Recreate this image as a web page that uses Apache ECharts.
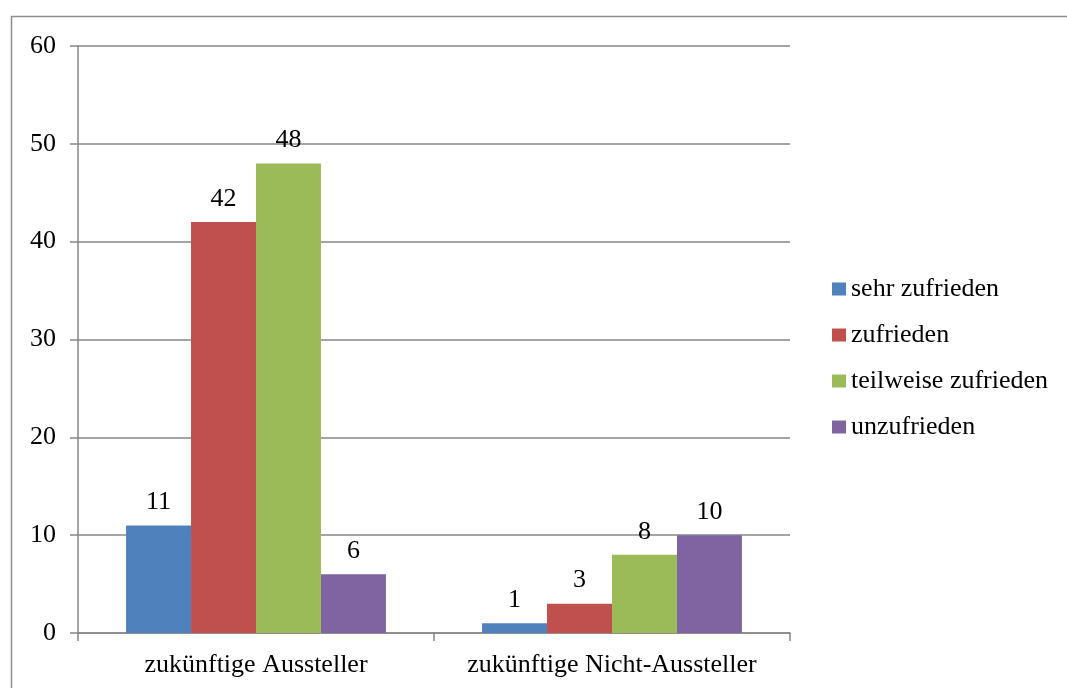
<!DOCTYPE html>
<html><head><meta charset="utf-8">
<script src="https://cdn.jsdelivr.net/npm/echarts@6/dist/echarts.min.js"></script>
<style>html,body{margin:0;padding:0;background:#fff}#c{width:1067px;height:688px}</style>
</head><body><div id="c"></div>
<script>
const categories = ['zukünftige Aussteller', 'zukünftige Nicht-Aussteller'];
const seriesNames = ['sehr zufrieden', 'zufrieden', 'teilweise zufrieden', 'unzufrieden'];
const sehrZufrieden = [11, 1];
const zufrieden = [42, 3];
const teilweiseZufrieden = [48, 8];
const unzufrieden = [6, 10];
const colors = ['#4F81BD', '#C0504D', '#9BBB59', '#8064A2'];
const values = [sehrZufrieden, zufrieden, teilweiseZufrieden, unzufrieden];
const font = '"Liberation Serif", "DejaVu Serif", serif';

const chart = echarts.init(document.getElementById('c'), null, {renderer: 'canvas'});
chart.setOption({
  animation: false,
  backgroundColor: '#fff',
  textStyle: {fontFamily: font},
  graphic: [{
    type: 'rect', shape: {x: 11.5, y: 16.5, width: 1200, height: 800},
    style: {fill: 'none', stroke: '#8c8c8c', lineWidth: 1.5}, silent: true
  }],
  grid: {left: 78, top: 46, width: 712, height: 587, containLabel: false},
  legend: {
    orient: 'vertical', left: 827, top: 271, itemGap: 20,
    itemWidth: 14, itemHeight: 13, icon: 'rect',
    textStyle: {fontFamily: font, fontSize: 26, color: '#000'},
    data: seriesNames
  },
  xAxis: {
    type: 'category', data: categories,
    axisLine: {lineStyle: {color: '#868686', width: 1.5}},
    axisTick: {show: true, length: 8, lineStyle: {color: '#868686', width: 1.5}},
    axisLabel: {fontFamily: font, fontSize: 26, color: '#000', margin: 19, interval: 0, hideOverlap: false}
  },
  yAxis: {
    type: 'value', min: 0, max: 60, interval: 10,
    axisLine: {show: true, lineStyle: {color: '#868686', width: 1.5}},
    axisTick: {show: true, length: 8, lineStyle: {color: '#868686', width: 1.5}},
    splitLine: {lineStyle: {color: '#868686', width: 1.5}},
    axisLabel: {fontFamily: font, fontSize: 26, color: '#000', margin: 22}
  },
  series: seriesNames.map((n, i) => ({
    name: n, type: 'bar', data: values[i], barGap: '0%', barCategoryGap: '27%',
    itemStyle: {color: colors[i]},
    label: {show: true, position: 'top', distance: 10, fontFamily: font, fontSize: 26, color: '#000'}
  }))
});
</script></body></html>
